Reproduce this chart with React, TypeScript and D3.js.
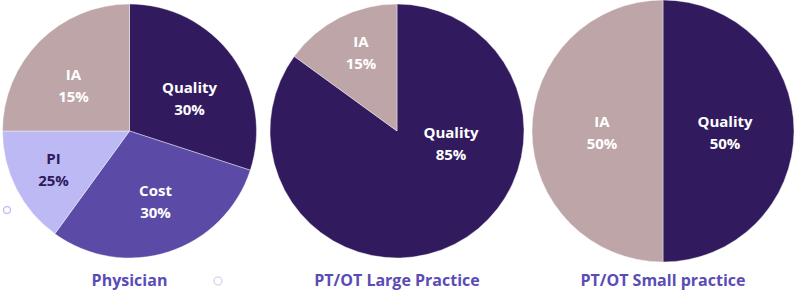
import React from "react";
import * as d3 from "d3";

// ---- data ----
const pieTitles = ["Physician", "PT/OT Large Practice", "PT/OT Small practice"];

const physicianCategories = ["Quality", "Cost", "PI", "IA"];
const physicianValues = [30, 30, 15, 25];
const physicianLabels = ["30%", "30%", "25%", "15%"];

const largeCategories = ["Quality", "IA"];
const largeValues = [85, 15];
const largeLabels = ["85%", "15%"];

const smallCategories = ["Quality", "IA"];
const smallValues = [50, 50];
const smallLabels = ["50%", "50%"];

// ---- styles / layout ----
const colors: Record<string, string> = {
  Quality: "#311b5e",
  Cost: "#5b4aa6",
  PI: "#bdb9f5",
  IA: "#bea5a7",
};
const textColors: Record<string, string> = {
  Quality: "#ffffff",
  Cost: "#ffffff",
  PI: "#2e1b5c",
  IA: "#ffffff",
};

const pies = [
  {
    title: pieTitles[0],
    cats: physicianCategories,
    vals: physicianValues,
    labels: physicianLabels,
    cx: 129.5,
    cy: 131,
    r: 127,
    labelOffsets: [
      [60, -32],
      [26, 71],
      [-76, 39],
      [-56, -45],
    ],
  },
  {
    title: pieTitles[1],
    cats: largeCategories,
    vals: largeValues,
    labels: largeLabels,
    cx: 397,
    cy: 131,
    r: 127,
    labelOffsets: [
      [54, 13],
      [-36, -78],
    ],
  },
  {
    title: pieTitles[2],
    cats: smallCategories,
    vals: smallValues,
    labels: smallLabels,
    cx: 663,
    cy: 131,
    r: 131,
    labelOffsets: [
      [62, 2],
      [-61, 2],
    ],
  },
];

const FONT = "'Open Sans', 'DejaVu Sans', sans-serif";

export default function App() {
  const pieGen = d3
    .pie<number>()
    .sort(null)
    .value((d) => d);

  return (
    <svg
      width={795}
      height={294}
      style={{ position: "absolute", left: 0, top: 0, background: "#ffffff" }}
    >
      {pies.map((p, pi) => {
        const arcs = pieGen(p.vals);
        const arcGen = d3.arc<d3.PieArcDatum<number>>().innerRadius(0).outerRadius(p.r);
        return (
          <g key={pi} transform={`translate(${p.cx},${p.cy})`}>
            {arcs.map((a, i) => (
              <path
                key={i}
                d={arcGen(a) || ""}
                fill={colors[p.cats[i]]}
                stroke="#ffffff"
                strokeOpacity={0.5}
                strokeWidth={0.8}
              />
            ))}
            {arcs.map((a, i) => {
              const [dx, dy] = p.labelOffsets[i];
              return (
                <text
                  key={"t" + i}
                  x={dx}
                  y={dy}
                  textAnchor="middle"
                  fontFamily={FONT}
                  fontWeight={700}
                  fontSize={15}
                  fill={textColors[p.cats[i]]}
                >
                  <tspan x={dx} dy={-6}>
                    {p.cats[i]}
                  </tspan>
                  <tspan x={dx} dy={22}>
                    {p.labels[i]}
                  </tspan>
                </text>
              );
            })}
            <text
              x={0}
              y={155}
              textAnchor="middle"
              fontFamily={FONT}
              fontWeight={700}
              fontSize={16}
              fill="#5a4cb6"
            >
              {p.title}
            </text>
          </g>
        );
      })}
      <circle cx={7} cy={210} r={3.5} fill="none" stroke="#c7c3ec" strokeWidth={1.5} />
      <circle cx={218} cy={281} r={4} fill="none" stroke="#dcd9ef" strokeWidth={1.5} />
    </svg>
  );
}
